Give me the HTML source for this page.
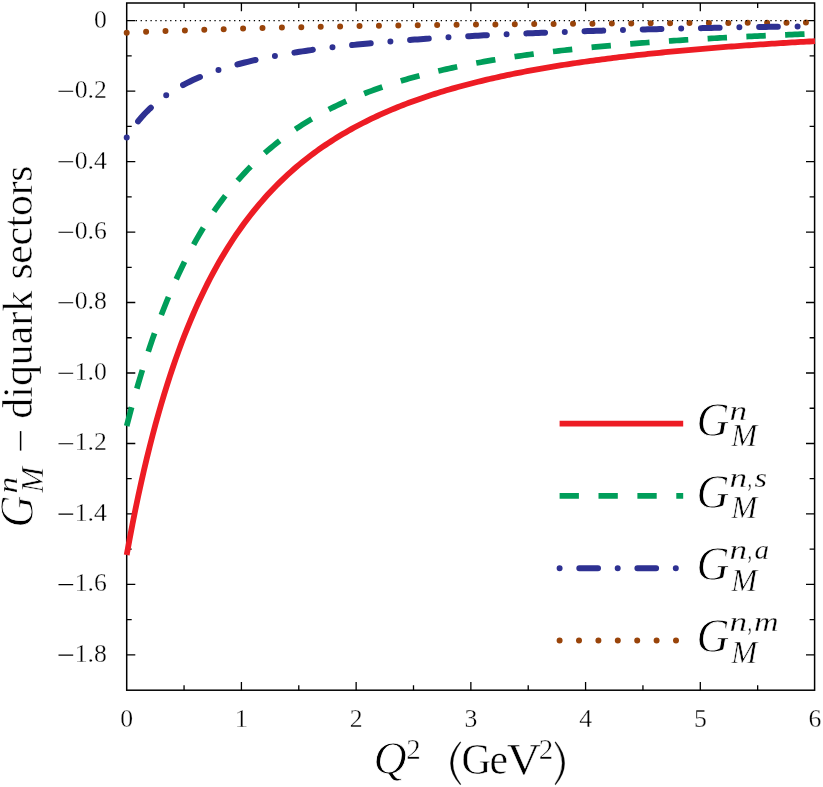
<!DOCTYPE html>
<html><head><meta charset="utf-8"><title>chart</title><style>html,body{margin:0;padding:0;background:#fff;}body{width:823px;height:787px;overflow:hidden;position:relative;font-family:"Liberation Serif",serif;}</style></head><body>
<svg width="823" height="787" viewBox="0 0 823 787" style="position:absolute;left:0;top:0">
<defs><filter id="gray" x="-5%" y="-5%" width="110%" height="110%" color-interpolation-filters="sRGB"><feColorMatrix type="saturate" values="0"/></filter></defs>
<rect width="823" height="787" fill="#fff"/>
<rect x="126.7" y="3.0" width="687.90" height="687.20" fill="none" stroke="#000" stroke-width="1.5"/>
<path d="M184.06,690.2v-5M184.06,3.0v5M241.42,690.2v-8.3M241.42,3.0v8.3M298.78,690.2v-5M298.78,3.0v5M356.14,690.2v-8.3M356.14,3.0v8.3M413.50,690.2v-5M413.50,3.0v5M470.86,690.2v-8.3M470.86,3.0v8.3M528.22,690.2v-5M528.22,3.0v5M585.58,690.2v-8.3M585.58,3.0v8.3M642.94,690.2v-5M642.94,3.0v5M700.30,690.2v-8.3M700.30,3.0v8.3M757.66,690.2v-5M757.66,3.0v5M126.7,20.60h8.6M814.6,20.60h-8.6M126.7,55.84h5M814.6,55.84h-5M126.7,91.08h8.6M814.6,91.08h-8.6M126.7,126.32h5M814.6,126.32h-5M126.7,161.56h8.6M814.6,161.56h-8.6M126.7,196.80h5M814.6,196.80h-5M126.7,232.04h8.6M814.6,232.04h-8.6M126.7,267.28h5M814.6,267.28h-5M126.7,302.52h8.6M814.6,302.52h-8.6M126.7,337.76h5M814.6,337.76h-5M126.7,373.00h8.6M814.6,373.00h-8.6M126.7,408.24h5M814.6,408.24h-5M126.7,443.48h8.6M814.6,443.48h-8.6M126.7,478.72h5M814.6,478.72h-5M126.7,513.96h8.6M814.6,513.96h-8.6M126.7,549.20h5M814.6,549.20h-5M126.7,584.44h8.6M814.6,584.44h-8.6M126.7,619.68h5M814.6,619.68h-5M126.7,654.92h8.6M814.6,654.92h-8.6" stroke="#000" stroke-width="1.3" fill="none"/>
<g fill="none" stroke-width="6">
<path d="M126.70,32.68 L129.58,32.55 L132.46,32.43 L135.34,32.30 L138.22,32.18 L141.10,32.06 L143.98,31.94 L146.86,31.82 L149.74,31.70 L152.62,31.58 L155.50,31.47 L158.38,31.36 L161.26,31.24 L164.14,31.13 L167.02,31.02 L169.90,30.92 L172.78,30.81 L175.66,30.70 L178.54,30.60 L181.42,30.50 L184.30,30.40 L187.18,30.30 L190.06,30.20 L192.94,30.10 L195.82,30.00 L198.70,29.91 L201.58,29.81 L204.46,29.72 L207.34,29.63 L210.22,29.54 L213.10,29.45 L215.98,29.36 L218.86,29.27 L221.74,29.19 L224.62,29.10 L227.50,29.02 L230.38,28.93 L233.26,28.85 L236.14,28.77 L239.02,28.69 L241.90,28.61 L244.78,28.53 L247.66,28.46 L250.54,28.38 L253.42,28.31 L256.30,28.23 L259.18,28.16 L262.06,28.09 L264.94,28.02 L267.82,27.95 L270.70,27.88 L273.58,27.81 L276.46,27.74 L279.34,27.67 L282.22,27.61 L285.10,27.54 L287.98,27.48 L290.86,27.42 L293.74,27.35 L296.62,27.29 L299.50,27.23 L302.38,27.17 L305.26,27.11 L308.14,27.05 L311.02,26.99 L313.90,26.94 L316.78,26.88 L319.66,26.82 L322.54,26.77 L325.42,26.71 L328.30,26.66 L331.18,26.61 L334.06,26.55 L336.94,26.50 L339.82,26.45 L342.70,26.40 L345.58,26.35 L348.46,26.30 L351.34,26.25 L354.22,26.20 L357.10,26.15 L359.98,26.11 L362.86,26.06 L365.74,26.02 L368.62,25.97 L371.50,25.92 L374.38,25.88 L377.26,25.84 L380.14,25.79 L383.02,25.75 L385.90,25.71 L388.78,25.67 L391.66,25.62 L394.54,25.58 L397.42,25.54 L400.30,25.50 L403.18,25.46 L406.06,25.43 L408.94,25.39 L411.82,25.35 L414.70,25.31 L417.58,25.27 L420.46,25.24 L423.34,25.20 L426.22,25.17 L429.10,25.13 L431.98,25.09 L434.86,25.06 L437.74,25.03 L440.62,24.99 L443.50,24.96 L446.38,24.92 L449.26,24.89 L452.14,24.86 L455.02,24.83 L457.90,24.80 L460.78,24.76 L463.66,24.73 L466.54,24.70 L469.42,24.67 L472.30,24.64 L475.18,24.61 L478.06,24.58 L480.94,24.55 L483.82,24.53 L486.70,24.50 L489.58,24.47 L492.46,24.44 L495.34,24.41 L498.22,24.39 L501.10,24.36 L503.98,24.33 L506.86,24.31 L509.74,24.28 L512.62,24.25 L515.50,24.23 L518.38,24.20 L521.26,24.18 L524.14,24.15 L527.02,24.13 L529.90,24.11 L532.78,24.08 L535.66,24.06 L538.54,24.03 L541.42,24.01 L544.30,23.99 L547.18,23.97 L550.06,23.94 L552.94,23.92 L555.82,23.90 L558.70,23.88 L561.58,23.86 L564.46,23.83 L567.34,23.81 L570.22,23.79 L573.10,23.77 L575.98,23.75 L578.86,23.73 L581.74,23.71 L584.62,23.69 L587.50,23.67 L590.38,23.65 L593.26,23.63 L596.14,23.61 L599.02,23.59 L601.90,23.57 L604.78,23.56 L607.66,23.54 L610.54,23.52 L613.42,23.50 L616.30,23.48 L619.18,23.46 L622.06,23.45 L624.94,23.43 L627.82,23.41 L630.70,23.40 L633.58,23.38 L636.46,23.36 L639.34,23.34 L642.22,23.33 L645.10,23.31 L647.98,23.30 L650.86,23.28 L653.74,23.26 L656.62,23.25 L659.50,23.23 L662.38,23.22 L665.26,23.20 L668.14,23.19 L671.02,23.17 L673.90,23.16 L676.78,23.14 L679.66,23.13 L682.54,23.11 L685.42,23.10 L688.30,23.08 L691.18,23.07 L694.06,23.06 L696.94,23.04 L699.82,23.03 L702.70,23.01 L705.58,23.00 L708.46,22.99 L711.34,22.97 L714.22,22.96 L717.10,22.95 L719.98,22.94 L722.86,22.92 L725.74,22.91 L728.62,22.90 L731.50,22.89 L734.38,22.87 L737.26,22.86 L740.14,22.85 L743.02,22.84 L745.90,22.82 L748.78,22.81 L751.66,22.80 L754.54,22.79 L757.42,22.78 L760.30,22.77 L763.18,22.75 L766.06,22.74 L768.94,22.73 L771.82,22.72 L774.70,22.71 L777.58,22.70 L780.46,22.69 L783.34,22.68 L786.22,22.67 L789.10,22.66 L791.98,22.65 L794.86,22.64 L797.74,22.63 L800.62,22.62 L803.50,22.61 L806.38,22.60 L809.26,22.59 L812.14,22.58 L815.02,22.57" stroke="#99440a" stroke-linecap="round" stroke-dasharray="0 19.41"/>
<path d="M126.70,137.46 L129.58,132.93 L132.46,128.72 L135.34,124.81 L138.22,121.16 L141.10,117.75 L143.98,114.55 L146.86,111.54 L149.74,108.71 L152.62,106.05 L155.50,103.53 L158.38,101.14 L161.26,98.88 L164.14,96.74 L167.02,94.70 L169.90,92.77 L172.78,90.92 L175.66,89.16 L178.54,87.48 L181.42,85.87 L184.30,84.33 L187.18,82.86 L190.06,81.44 L192.94,80.09 L195.82,78.79 L198.70,77.53 L201.58,76.33 L204.46,75.17 L207.34,74.05 L210.22,72.97 L213.10,71.93 L215.98,70.93 L218.86,69.96 L221.74,69.02 L224.62,68.12 L227.50,67.24 L230.38,66.39 L233.26,65.56 L236.14,64.77 L239.02,63.99 L241.90,63.24 L244.78,62.51 L247.66,61.80 L250.54,61.11 L253.42,60.44 L256.30,59.79 L259.18,59.16 L262.06,58.54 L264.94,57.94 L267.82,57.36 L270.70,56.79 L273.58,56.23 L276.46,55.69 L279.34,55.16 L282.22,54.65 L285.10,54.14 L287.98,53.65 L290.86,53.17 L293.74,52.70 L296.62,52.25 L299.50,51.80 L302.38,51.36 L305.26,50.93 L308.14,50.51 L311.02,50.10 L313.90,49.70 L316.78,49.31 L319.66,48.93 L322.54,48.55 L325.42,48.18 L328.30,47.82 L331.18,47.47 L334.06,47.12 L336.94,46.78 L339.82,46.45 L342.70,46.12 L345.58,45.80 L348.46,45.49 L351.34,45.18 L354.22,44.88 L357.10,44.58 L359.98,44.29 L362.86,44.00 L365.74,43.72 L368.62,43.44 L371.50,43.17 L374.38,42.90 L377.26,42.64 L380.14,42.38 L383.02,42.13 L385.90,41.88 L388.78,41.64 L391.66,41.39 L394.54,41.16 L397.42,40.93 L400.30,40.70 L403.18,40.47 L406.06,40.25 L408.94,40.03 L411.82,39.82 L414.70,39.60 L417.58,39.40 L420.46,39.19 L423.34,38.99 L426.22,38.79 L429.10,38.60 L431.98,38.40 L434.86,38.21 L437.74,38.03 L440.62,37.84 L443.50,37.66 L446.38,37.48 L449.26,37.30 L452.14,37.13 L455.02,36.96 L457.90,36.79 L460.78,36.62 L463.66,36.46 L466.54,36.30 L469.42,36.14 L472.30,35.98 L475.18,35.83 L478.06,35.67 L480.94,35.52 L483.82,35.37 L486.70,35.23 L489.58,35.08 L492.46,34.94 L495.34,34.80 L498.22,34.66 L501.10,34.52 L503.98,34.39 L506.86,34.25 L509.74,34.12 L512.62,33.99 L515.50,33.86 L518.38,33.74 L521.26,33.61 L524.14,33.49 L527.02,33.37 L529.90,33.24 L532.78,33.13 L535.66,33.01 L538.54,32.89 L541.42,32.78 L544.30,32.66 L547.18,32.55 L550.06,32.44 L552.94,32.33 L555.82,32.22 L558.70,32.12 L561.58,32.01 L564.46,31.91 L567.34,31.81 L570.22,31.70 L573.10,31.60 L575.98,31.50 L578.86,31.41 L581.74,31.31 L584.62,31.21 L587.50,31.12 L590.38,31.03 L593.26,30.93 L596.14,30.84 L599.02,30.75 L601.90,30.66 L604.78,30.57 L607.66,30.49 L610.54,30.40 L613.42,30.32 L616.30,30.23 L619.18,30.15 L622.06,30.07 L624.94,29.98 L627.82,29.90 L630.70,29.82 L633.58,29.75 L636.46,29.67 L639.34,29.59 L642.22,29.51 L645.10,29.44 L647.98,29.36 L650.86,29.29 L653.74,29.22 L656.62,29.14 L659.50,29.07 L662.38,29.00 L665.26,28.93 L668.14,28.86 L671.02,28.80 L673.90,28.73 L676.78,28.66 L679.66,28.59 L682.54,28.53 L685.42,28.46 L688.30,28.40 L691.18,28.34 L694.06,28.27 L696.94,28.21 L699.82,28.15 L702.70,28.09 L705.58,28.03 L708.46,27.97 L711.34,27.91 L714.22,27.85 L717.10,27.79 L719.98,27.74 L722.86,27.68 L725.74,27.62 L728.62,27.57 L731.50,27.51 L734.38,27.46 L737.26,27.40 L740.14,27.35 L743.02,27.30 L745.90,27.24 L748.78,27.19 L751.66,27.14 L754.54,27.09 L757.42,27.04 L760.30,26.99 L763.18,26.94 L766.06,26.89 L768.94,26.84 L771.82,26.80 L774.70,26.75 L777.58,26.70 L780.46,26.66 L783.34,26.61 L786.22,26.56 L789.10,26.52 L791.98,26.47 L794.86,26.43 L797.74,26.39 L800.62,26.34 L803.50,26.30 L806.38,26.26 L809.26,26.21 L812.14,26.17 L815.02,26.13" stroke="#2e3192" stroke-linecap="round" stroke-dasharray="0 19.76 18.7 19.76"/>
<path d="M126.70,426.06 L129.58,414.96 L132.46,404.24 L135.34,393.88 L138.22,383.88 L141.10,374.21 L143.98,364.88 L146.86,355.85 L149.74,347.13 L152.62,338.70 L155.50,330.55 L158.38,322.66 L161.26,315.04 L164.14,307.67 L167.02,300.54 L169.90,293.63 L172.78,286.95 L175.66,280.49 L178.54,274.23 L181.42,268.17 L184.30,262.30 L187.18,256.61 L190.06,251.10 L192.94,245.76 L195.82,240.59 L198.70,235.57 L201.58,230.71 L204.46,225.99 L207.34,221.41 L210.22,216.97 L213.10,212.66 L215.98,208.48 L218.86,204.42 L221.74,200.48 L224.62,196.65 L227.50,192.93 L230.38,189.32 L233.26,185.80 L236.14,182.39 L239.02,179.07 L241.90,175.85 L244.78,172.71 L247.66,169.66 L250.54,166.69 L253.42,163.80 L256.30,160.99 L259.18,158.25 L262.06,155.59 L264.94,152.99 L267.82,150.47 L270.70,148.01 L273.58,145.61 L276.46,143.27 L279.34,140.99 L282.22,138.78 L285.10,136.61 L287.98,134.50 L290.86,132.44 L293.74,130.44 L296.62,128.48 L299.50,126.57 L302.38,124.71 L305.26,122.89 L308.14,121.11 L311.02,119.38 L313.90,117.68 L316.78,116.03 L319.66,114.42 L322.54,112.84 L325.42,111.30 L328.30,109.79 L331.18,108.32 L334.06,106.88 L336.94,105.48 L339.82,104.10 L342.70,102.76 L345.58,101.44 L348.46,100.16 L351.34,98.90 L354.22,97.67 L357.10,96.46 L359.98,95.29 L362.86,94.13 L365.74,93.00 L368.62,91.90 L371.50,90.82 L374.38,89.76 L377.26,88.72 L380.14,87.70 L383.02,86.71 L385.90,85.73 L388.78,84.78 L391.66,83.84 L394.54,82.92 L397.42,82.02 L400.30,81.14 L403.18,80.28 L406.06,79.43 L408.94,78.60 L411.82,77.79 L414.70,76.99 L417.58,76.20 L420.46,75.44 L423.34,74.68 L426.22,73.94 L429.10,73.22 L431.98,72.50 L434.86,71.81 L437.74,71.12 L440.62,70.45 L443.50,69.78 L446.38,69.14 L449.26,68.50 L452.14,67.87 L455.02,67.26 L457.90,66.65 L460.78,66.06 L463.66,65.48 L466.54,64.91 L469.42,64.34 L472.30,63.79 L475.18,63.25 L478.06,62.71 L480.94,62.19 L483.82,61.67 L486.70,61.17 L489.58,60.67 L492.46,60.18 L495.34,59.70 L498.22,59.23 L501.10,58.76 L503.98,58.30 L506.86,57.85 L509.74,57.41 L512.62,56.97 L515.50,56.54 L518.38,56.12 L521.26,55.71 L524.14,55.30 L527.02,54.90 L529.90,54.50 L532.78,54.11 L535.66,53.73 L538.54,53.35 L541.42,52.98 L544.30,52.62 L547.18,52.26 L550.06,51.90 L552.94,51.55 L555.82,51.21 L558.70,50.87 L561.58,50.54 L564.46,50.21 L567.34,49.89 L570.22,49.57 L573.10,49.26 L575.98,48.95 L578.86,48.64 L581.74,48.34 L584.62,48.05 L587.50,47.76 L590.38,47.47 L593.26,47.19 L596.14,46.91 L599.02,46.63 L601.90,46.36 L604.78,46.10 L607.66,45.83 L610.54,45.57 L613.42,45.32 L616.30,45.07 L619.18,44.82 L622.06,44.57 L624.94,44.33 L627.82,44.09 L630.70,43.86 L633.58,43.63 L636.46,43.40 L639.34,43.17 L642.22,42.95 L645.10,42.73 L647.98,42.51 L650.86,42.30 L653.74,42.09 L656.62,41.88 L659.50,41.67 L662.38,41.47 L665.26,41.27 L668.14,41.07 L671.02,40.88 L673.90,40.69 L676.78,40.50 L679.66,40.31 L682.54,40.13 L685.42,39.94 L688.30,39.76 L691.18,39.59 L694.06,39.41 L696.94,39.24 L699.82,39.07 L702.70,38.90 L705.58,38.73 L708.46,38.56 L711.34,38.40 L714.22,38.24 L717.10,38.08 L719.98,37.93 L722.86,37.77 L725.74,37.62 L728.62,37.47 L731.50,37.32 L734.38,37.17 L737.26,37.02 L740.14,36.88 L743.02,36.74 L745.90,36.60 L748.78,36.46 L751.66,36.32 L754.54,36.19 L757.42,36.05 L760.30,35.92 L763.18,35.79 L766.06,35.66 L768.94,35.53 L771.82,35.40 L774.70,35.28 L777.58,35.16 L780.46,35.03 L783.34,34.91 L786.22,34.79 L789.10,34.68 L791.98,34.56 L794.86,34.44 L797.74,34.33 L800.62,34.22 L803.50,34.11 L806.38,34.00 L809.26,33.89 L812.14,33.78 L815.02,33.67" stroke="#009e5a" stroke-width="5.7" stroke-dasharray="19.4 19.4"/>
<path d="M126.70,554.99 L129.58,539.24 L132.46,524.19 L135.34,509.80 L138.22,496.02 L141.10,482.82 L143.98,470.16 L146.86,458.01 L149.74,446.34 L152.62,435.13 L155.50,424.34 L158.38,413.96 L161.26,403.97 L164.14,394.34 L167.02,385.06 L169.90,376.12 L172.78,367.48 L175.66,359.15 L178.54,351.11 L181.42,343.34 L184.30,335.83 L187.18,328.57 L190.06,321.55 L192.94,314.75 L195.82,308.18 L198.70,301.81 L201.58,295.65 L204.46,289.68 L207.34,283.89 L210.22,278.28 L213.10,272.85 L215.98,267.57 L218.86,262.45 L221.74,257.49 L224.62,252.67 L227.50,247.98 L230.38,243.44 L233.26,239.02 L236.14,234.73 L239.02,230.56 L241.90,226.50 L244.78,222.55 L247.66,218.72 L250.54,214.98 L253.42,211.35 L256.30,207.81 L259.18,204.37 L262.06,201.02 L264.94,197.75 L267.82,194.57 L270.70,191.47 L273.58,188.45 L276.46,185.50 L279.34,182.63 L282.22,179.83 L285.10,177.10 L287.98,174.43 L290.86,171.83 L293.74,169.29 L296.62,166.82 L299.50,164.40 L302.38,162.04 L305.26,159.73 L308.14,157.48 L311.02,155.28 L313.90,153.12 L316.78,151.02 L319.66,148.97 L322.54,146.96 L325.42,144.99 L328.30,143.07 L331.18,141.20 L334.06,139.36 L336.94,137.56 L339.82,135.80 L342.70,134.08 L345.58,132.39 L348.46,130.74 L351.34,129.13 L354.22,127.55 L357.10,126.00 L359.98,124.48 L362.86,122.99 L365.74,121.54 L368.62,120.11 L371.50,118.71 L374.38,117.34 L377.26,116.00 L380.14,114.68 L383.02,113.39 L385.90,112.12 L388.78,110.88 L391.66,109.66 L394.54,108.47 L397.42,107.29 L400.30,106.14 L403.18,105.01 L406.06,103.91 L408.94,102.82 L411.82,101.75 L414.70,100.70 L417.58,99.68 L420.46,98.67 L423.34,97.67 L426.22,96.70 L429.10,95.74 L431.98,94.80 L434.86,93.88 L437.74,92.97 L440.62,92.08 L443.50,91.20 L446.38,90.34 L449.26,89.49 L452.14,88.66 L455.02,87.84 L457.90,87.04 L460.78,86.25 L463.66,85.47 L466.54,84.71 L469.42,83.96 L472.30,83.22 L475.18,82.49 L478.06,81.77 L480.94,81.07 L483.82,80.38 L486.70,79.69 L489.58,79.02 L492.46,78.36 L495.34,77.71 L498.22,77.07 L501.10,76.44 L503.98,75.82 L506.86,75.21 L509.74,74.61 L512.62,74.02 L515.50,73.44 L518.38,72.86 L521.26,72.30 L524.14,71.74 L527.02,71.19 L529.90,70.65 L532.78,70.12 L535.66,69.60 L538.54,69.08 L541.42,68.57 L544.30,68.07 L547.18,67.58 L550.06,67.09 L552.94,66.61 L555.82,66.13 L558.70,65.67 L561.58,65.21 L564.46,64.75 L567.34,64.31 L570.22,63.87 L573.10,63.43 L575.98,63.00 L578.86,62.58 L581.74,62.16 L584.62,61.75 L587.50,61.35 L590.38,60.95 L593.26,60.55 L596.14,60.16 L599.02,59.78 L601.90,59.40 L604.78,59.03 L607.66,58.66 L610.54,58.29 L613.42,57.94 L616.30,57.58 L619.18,57.23 L622.06,56.89 L624.94,56.55 L627.82,56.21 L630.70,55.88 L633.58,55.55 L636.46,55.23 L639.34,54.91 L642.22,54.59 L645.10,54.28 L647.98,53.97 L650.86,53.67 L653.74,53.37 L656.62,53.07 L659.50,52.78 L662.38,52.49 L665.26,52.21 L668.14,51.93 L671.02,51.65 L673.90,51.37 L676.78,51.10 L679.66,50.83 L682.54,50.57 L685.42,50.31 L688.30,50.05 L691.18,49.79 L694.06,49.54 L696.94,49.29 L699.82,49.04 L702.70,48.80 L705.58,48.56 L708.46,48.32 L711.34,48.09 L714.22,47.85 L717.10,47.62 L719.98,47.40 L722.86,47.17 L725.74,46.95 L728.62,46.73 L731.50,46.51 L734.38,46.30 L737.26,46.09 L740.14,45.88 L743.02,45.67 L745.90,45.47 L748.78,45.26 L751.66,45.06 L754.54,44.87 L757.42,44.67 L760.30,44.48 L763.18,44.28 L766.06,44.09 L768.94,43.91 L771.82,43.72 L774.70,43.54 L777.58,43.36 L780.46,43.18 L783.34,43.00 L786.22,42.82 L789.10,42.65 L791.98,42.48 L794.86,42.31 L797.74,42.14 L800.62,41.97 L803.50,41.81 L806.38,41.65 L809.26,41.49 L812.14,41.33 L815.02,41.17" stroke="#ed1c24" stroke-width="5.8"/>
</g>
<line x1="135.7" y1="20.6" x2="806.6" y2="20.6" stroke="#000" stroke-width="1.3" stroke-dasharray="1.3 3.62"/>
<g font-family="Liberation Serif, serif" stroke="#fff" stroke-width="0.3" stroke-linejoin="round" font-size="25.7" fill="#000" filter="url(#gray)">
<text x="126.7" y="726.9" text-anchor="middle">0</text>
<text x="241.4" y="726.9" text-anchor="middle">1</text>
<text x="356.1" y="726.9" text-anchor="middle">2</text>
<text x="470.9" y="726.9" text-anchor="middle">3</text>
<text x="585.6" y="726.9" text-anchor="middle">4</text>
<text x="700.3" y="726.9" text-anchor="middle">5</text>
<text x="815.0" y="726.9" text-anchor="middle">6</text>
<text x="106.8" y="28.1" text-anchor="end">0</text>
<text x="106.8" y="98.0" text-anchor="end">0.2</text>
<text x="106.8" y="168.5" text-anchor="end">0.4</text>
<text x="106.8" y="238.9" text-anchor="end">0.6</text>
<text x="106.8" y="309.4" text-anchor="end">0.8</text>
<text x="106.8" y="379.9" text-anchor="end">1.0</text>
<text x="106.8" y="450.4" text-anchor="end">1.2</text>
<text x="106.8" y="520.9" text-anchor="end">1.4</text>
<text x="106.8" y="591.3" text-anchor="end">1.6</text>
<text x="106.8" y="661.8" text-anchor="end">1.8</text>
</g>
<path d="M58.5,91.28H73.2M58.5,161.76H73.2M58.5,232.24H73.2M58.5,302.72H73.2M58.5,373.20H73.2M58.5,443.68H73.2M58.5,514.16H73.2M58.5,584.64H73.2M58.5,655.12H73.2" stroke="#000" stroke-width="1.1" fill="none"/>
<g filter="url(#gray)"><g font-family="Liberation Serif, serif" stroke="#fff" stroke-width="0.5" stroke-linejoin="round" fill="#000" transform="translate(32.2,0) rotate(-90)">
<text x="-527.6" y="0.3" font-size="48.5" font-style="italic" stroke-width="0.9" textLength="32" lengthAdjust="spacingAndGlyphs">G</text>
<text x="-492.7" y="11" font-size="31" font-style="italic" textLength="26" lengthAdjust="spacingAndGlyphs">M</text>
<text transform="translate(-493.60,-15.40) scale(1.223,1)" font-size="27.3" font-style="italic" stroke-width="0.3">n</text>
<path d="M-450.6,-11.6H-431.1" stroke="#000" stroke-width="1.5"/>
<text x="-418.8" y="0" font-size="41.5" textLength="128" lengthAdjust="spacing">diquark</text>
<text x="-279.6" y="0" font-size="41.5" textLength="114" lengthAdjust="spacing">sectors</text>
</g></g>
<g font-family="Liberation Serif, serif" stroke="#fff" stroke-width="0.5" stroke-linejoin="round" fill="#000" filter="url(#gray)">
<text x="373.6" y="774.2" font-size="46" font-style="italic" stroke-width="0.9">Q</text>
<text x="406.3" y="758.7" font-size="29">2</text>
<text x="461.6" y="774.2" font-size="43.5" textLength="29.6" lengthAdjust="spacingAndGlyphs">G</text>
<text x="489.4" y="774.2" font-size="43.5" textLength="18.6" lengthAdjust="spacingAndGlyphs">e</text>
<text x="506.8" y="774.2" font-size="43.5" textLength="34" lengthAdjust="spacingAndGlyphs">V</text>
<text x="538.7" y="758.7" font-size="29">2</text>
</g>
<path d="M460.2,741.8 Q440.8,763.3 460.2,784.8 l0.7,-0.5 Q444.99999999999994,763.3 460.9,742.3ZM555.6,741.8 Q573.6,763.3 555.6,784.8 l-0.7,-0.5 Q569.4000000000001,763.3 554.9,742.3Z" fill="#000" stroke="#000" stroke-width="0.3"/>
<g fill="none" stroke-width="6">
<path d="M559.6,423.6H683.2" stroke="#ed1c24" stroke-width="5.7"/>
<path d="M559.6,495.9H683.2" stroke="#009e5a" stroke-width="5.7" stroke-dasharray="19.3 19.6"/>
<path d="M559.6,568.2H680" stroke="#2e3192" stroke-linecap="round" stroke-dasharray="0 19.7 18.7 19.7"/>
<path d="M559.6,640.4H680" stroke="#99440a" stroke-linecap="round" stroke-dasharray="0 19.4"/>
</g>
<g font-family="Liberation Serif, serif" stroke="#fff" stroke-width="0.5" stroke-linejoin="round" fill="#000" font-style="italic" filter="url(#gray)">
<text x="696.6" y="435.5" font-size="48.5" stroke-width="0.9" textLength="33" lengthAdjust="spacingAndGlyphs">G</text>
<text transform="translate(729.40,419.90) scale(1.289,1)" font-size="27.3" font-style="italic" stroke-width="0.3">n</text>
<text x="731.3" y="446.0" font-size="31" textLength="26" lengthAdjust="spacingAndGlyphs">M</text>
<text x="696.6" y="507.8" font-size="48.5" stroke-width="0.9" textLength="33" lengthAdjust="spacingAndGlyphs">G</text>
<text transform="translate(729.40,486.70) scale(1.289,1)" font-size="27.3" font-style="italic" stroke-width="0.3">n</text>
<text transform="translate(747.80,486.70) scale(0.586,1)" font-size="27.3" font-style="italic" stroke-width="0.3">,</text>
<text transform="translate(754.40,486.70) scale(1.177,1)" font-size="27.3" font-style="italic" stroke-width="0.3">s</text>
<text x="731.3" y="518.3" font-size="31" textLength="26" lengthAdjust="spacingAndGlyphs">M</text>
<text x="696.6" y="580.1" font-size="48.5" stroke-width="0.9" textLength="33" lengthAdjust="spacingAndGlyphs">G</text>
<text transform="translate(729.40,559.00) scale(1.289,1)" font-size="27.3" font-style="italic" stroke-width="0.3">n</text>
<text transform="translate(747.80,559.00) scale(0.586,1)" font-size="27.3" font-style="italic" stroke-width="0.3">,</text>
<text transform="translate(754.40,559.00) scale(1.070,1)" font-size="27.3" font-style="italic" stroke-width="0.3">a</text>
<text x="731.3" y="590.6" font-size="31" textLength="26" lengthAdjust="spacingAndGlyphs">M</text>
<text x="696.6" y="652.3" font-size="48.5" stroke-width="0.9" textLength="33" lengthAdjust="spacingAndGlyphs">G</text>
<text transform="translate(729.40,631.20) scale(1.289,1)" font-size="27.3" font-style="italic" stroke-width="0.3">n</text>
<text transform="translate(747.80,631.20) scale(0.586,1)" font-size="27.3" font-style="italic" stroke-width="0.3">,</text>
<text transform="translate(754.00,631.20) scale(1.248,1)" font-size="27.3" font-style="italic" stroke-width="0.3">m</text>
<text x="731.3" y="662.8" font-size="31" textLength="26" lengthAdjust="spacingAndGlyphs">M</text>
</g>
</svg>
</body></html>
